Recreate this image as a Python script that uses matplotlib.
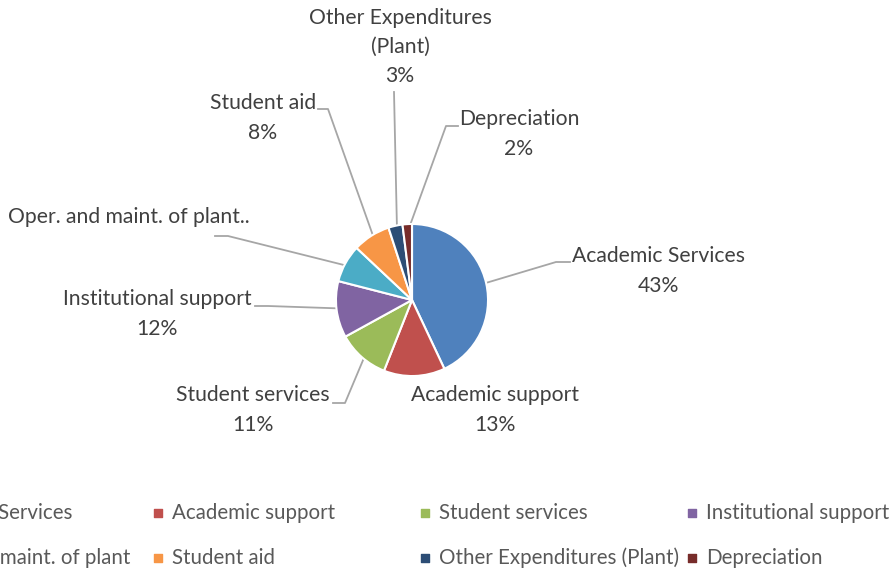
import numpy as np
import matplotlib
matplotlib.use("Agg")
import matplotlib.pyplot as plt

# data
categories = ['Academic Services', 'Academic support', 'Student services',
              'Institutional support', 'Oper. and maint. of plant', 'Student aid',
              'Other Expenditures (Plant)', 'Depreciation']
shares = [43, 13, 11, 12, 8, 8, 3, 2]
colors = ['#4F81BD', '#C0504D', '#9BBB59', '#8064A2',
          '#4BACC6', '#F79646', '#2C4D75', '#772C2A']
# data-label text (as shown on chart)
label_text = ['Academic Services\n43%', 'Academic support\n13%', 'Student services\n11%',
              'Institutional support\n12%', 'Oper. and maint. of plant..', 'Student aid\n8%',
              'Other Expenditures\n(Plant)\n3%', 'Depreciation\n2%']

W, H = 896, 574
fig = plt.figure(figsize=(W/100, H/100), dpi=100)
ax = fig.add_axes([0, 0, 1, 1])

plt.rcParams['font.family'] = ['Lato', 'DejaVu Sans']
txt_col = '#404040'
line_col = '#A6A6A6'

cx, cy, R = 412, H - 300, 76
wedges, _ = ax.pie(shares, colors=colors, startangle=90, counterclock=False,
                   radius=R, center=(cx, cy), explode=[0.035]*len(shares),
                   wedgeprops=dict(edgecolor='white', linewidth=1.5))
ax.set_xlim(0, W)
ax.set_ylim(0, H)
ax.set_aspect('equal')
ax.axis('off')

# label layout in pixel coords (from top): text centre, elbow point, end of horizontal stub
layout = [
    dict(t=(658, 271), elbow=(556, 262), stub=(570, 262), ha='center'),
    dict(t=(495, 410), elbow=None, stub=None, ha='center'),
    dict(t=(253, 410), elbow=(345, 403), stub=(333, 403), ha='center'),
    dict(t=(157, 314), elbow=(268, 306), stub=(255, 306), ha='center'),
    dict(t=(8, 217), elbow=(228, 236), stub=(215, 236), ha='left'),
    dict(t=(263, 118), elbow=(328, 109), stub=(318, 109), ha='center'),
    dict(t=(400, 47), elbow=(394, 92), stub=None, ha='center'),
    dict(t=(519, 134), elbow=(446, 126), stub=(458, 126), ha='center'),
]

for w, lab, lo in zip(wedges, label_text, layout):
    tx, ty = lo['t']
    ax.text(tx, H - ty, lab, ha=lo['ha'], va='center', fontsize=15.2,
            color=txt_col, linespacing=1.58)
    if lo['elbow'] is None:
        continue
    mid = np.deg2rad((w.theta1 + w.theta2) / 2)
    px = w.center[0] + w.r * 0.9 * np.cos(mid)
    py = w.center[1] + w.r * 0.9 * np.sin(mid)
    ex, ey = lo['elbow']
    xs, ys = [px, ex], [py, H - ey]
    if lo['stub'] is not None:
        xs.append(lo['stub'][0])
        ys.append(H - lo['stub'][1])
    ax.plot(xs, ys, color=line_col, lw=1.3, zorder=0)

# legend: 4 equal columns, first column runs off the left edge
pitch = 267
x0 = 158 - pitch
rows_y = [513, 558]
for i, (cat, c) in enumerate(zip(categories, colors)):
    col, row = i % 4, i // 4
    mx = x0 + col * pitch
    my = H - rows_y[row]
    ax.scatter([mx], [my], marker='s', s=40, color=c, clip_on=False)
    ax.text(mx + 14, my, cat, ha='left', va='center', fontsize=14.8,
            color='#595959', clip_on=False)

plt.savefig('out.png', dpi=100)
